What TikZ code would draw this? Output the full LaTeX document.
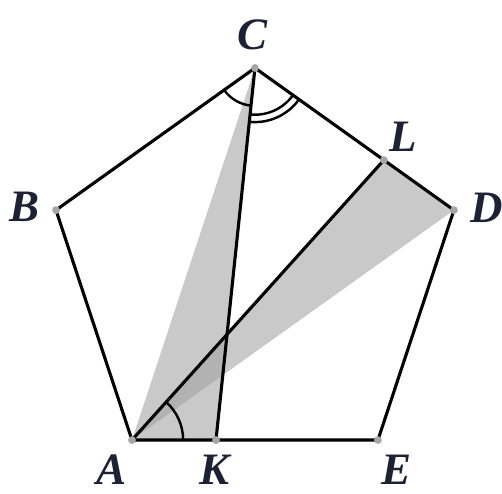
\documentclass[tikz,border=0pt]{standalone}
\usepackage{fontspec}
\setmainfont{Liberation Serif}
\usetikzlibrary{angles,calc}
\definecolor{shadegray}{RGB}{201,201,201}
\definecolor{overlapgray}{RGB}{178,178,178}
\definecolor{labelink}{RGB}{28,34,52}
\tikzset{
  edge/.style={line width=1.8pt, line join=round},
  vertex/.style={circle, fill=gray!70, inner sep=0pt, minimum size=4.5pt},
  ptlabel/.style={font=\fontsize{26}{28}\selectfont\bfseries\itshape, text=labelink, inner sep=0pt},
  anglemark/.style={draw, line width=1.4pt}
}
\begin{document}
\begin{tikzpicture}[x=1cm, y=0.983cm]
  \useasboundingbox (-2.683,-1.096) rectangle (7.522,9.10);
  % regular pentagon, side 5
  \coordinate (A) at (0,0);
  \coordinate (E) at (5,0);
  \coordinate (D) at (6.545,4.755);
  \coordinate (C) at (2.5,7.694);
  \coordinate (B) at (-1.545,4.755);
  \coordinate (K) at (1.708,0);
  \coordinate (L) at ($(C)!0.648!(D)$);
  % shaded triangles
  \fill[shadegray] (A) -- (C) -- (K) -- cycle;
  \fill[shadegray] (A) -- (L) -- (D) -- cycle;
  \begin{scope}
    \clip (A) -- (C) -- (K) -- cycle;
    \fill[overlapgray] (A) -- (L) -- (D) -- cycle;
  \end{scope}
  % pentagon and segments
  \draw[edge] (A) -- (B) -- (C) -- (D) -- (E) -- cycle;
  \draw[edge] (C) -- (K);
  \draw[edge] (A) -- (L);
  % angle marks
  \pic[anglemark, angle radius=0.77cm] {angle=B--C--K};
  \pic[anglemark, angle radius=0.95cm] {angle=K--C--D};
  \pic[anglemark, angle radius=1.1cm] {angle=K--C--D};
  \pic[anglemark, angle radius=1.04cm] {angle=E--A--L};
  \foreach \p in {A,B,C,D,E,K,L}
    \node[vertex] (dot\p) at (\p) {};
  % labels
  \node[ptlabel] (labA) at (-0.407,-0.62) {A};
  \node[ptlabel] (labK) at (1.687,-0.62) {K};
  \node[ptlabel] (labE) at (5.387,-0.62) {E};
  \node[ptlabel] (labD) at (7.217,4.798) {D};
  \node[ptlabel] (labL) at (5.509,6.267) {L};
  \node[ptlabel] (labC) at (2.46,8.376) {C};
  \node[ptlabel] (labB) at (-2.175,4.819) {B};
\end{tikzpicture}
\end{document}
